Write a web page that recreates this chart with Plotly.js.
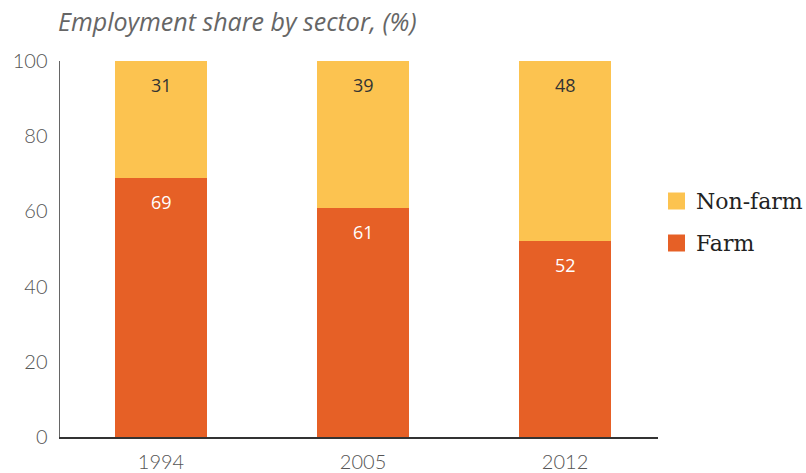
<!DOCTYPE html>
<html>
<head>
<meta charset="utf-8">
<script src="https://cdn.plot.ly/plotly-3.0.1.min.js"></script>
<style>html,body{margin:0;padding:0;background:#fff;}#chart{width:806px;height:473px;}</style>
</head>
<body>
<div id="chart"></div>
<script>
var years = ["1994", "2005", "2012"];
var farm = [69, 61, 52];
var nonFarm = [31, 39, 48];
var yTicks = [0, 20, 40, 60, 80, 100];
var seriesNames = ["Non-farm", "Farm"];

var orange = "#E66026";
var yellow = "#FCC350";

var traces = [
  {type: "bar", name: "Farm", x: years, y: farm, marker: {color: orange}, hoverinfo: "none", showlegend: false},
  {type: "bar", name: "Non-farm", x: years, y: nonFarm, marker: {color: yellow}, hoverinfo: "none", showlegend: false}
];

var annotations = [];
for (var i = 0; i < years.length; i++) {
  annotations.push({xref: "x", yref: "y", x: i, y: farm[i], text: String(farm[i]), showarrow: false, yshift: -24,
    font: {family: "Open Sans", size: 18, color: "#ffffff"}});
  annotations.push({xref: "x", yref: "y", x: i, y: farm[i] + nonFarm[i], text: String(nonFarm[i]), showarrow: false, yshift: -24,
    font: {family: "Open Sans", size: 18, color: "#333333"}});
}

// manual legend (positions in pixels converted to paper fractions)
var W = 806, H = 473, L = 60, R = 148, T = 61, B = 36;
var pw = W - L - R, ph = H - T - B;
function px(x) { return (x - L) / pw; }
function py(y) { return (H - B - y) / ph; }
var legendColors = [yellow, orange];
var legendY = [201, 243];
var shapes = [];
seriesNames.forEach(function (nm, k) {
  shapes.push({type: "rect", xref: "paper", yref: "paper", x0: px(668), x1: px(685), y0: py(legendY[k] + 8.5), y1: py(legendY[k] - 8.5),
    fillcolor: legendColors[k], line: {width: 0}});
  annotations.push({xref: "paper", yref: "paper", x: px(694), y: py(legendY[k]), xanchor: "left", yanchor: "middle",
    text: nm, showarrow: false, font: {family: "DejaVu Serif", size: 22, color: "#222222"}});
});

var layout = {
  width: W, height: H,
  margin: {l: L, r: R, t: T, b: B},
  paper_bgcolor: "#fff", plot_bgcolor: "#fff",
  barmode: "stack",
  bargap: 0.545,
  showlegend: false,
  title: {text: "Employment share by sector, (%)", x: 58/806, xanchor: "left", y: 1 - 22/473, yanchor: "middle",
    font: {family: "Open Sans", size: 25, color: "#666666", style: "italic"}},
  xaxis: {type: "category", range: [-0.5, 2.46], showline: true, linecolor: "#333333", linewidth: 2,
    ticks: "", showgrid: false, zeroline: false, ticklabelstandoff: 6,
    tickfont: {family: "Lato", size: 20, weight: 300, color: "#555555"}},
  yaxis: {range: [0, 100], tickvals: yTicks, ticktext: yTicks.map(String), showline: true, linecolor: "#666666",
    linewidth: 1.5, ticks: "", showgrid: false, zeroline: false, ticklabelstandoff: 7,
    tickfont: {family: "Lato", size: 20, weight: 300, color: "#555555"}},
  annotations: annotations,
  shapes: shapes
};

Plotly.newPlot("chart", traces, layout, {displayModeBar: false, staticPlot: true});
</script>
</body>
</html>
